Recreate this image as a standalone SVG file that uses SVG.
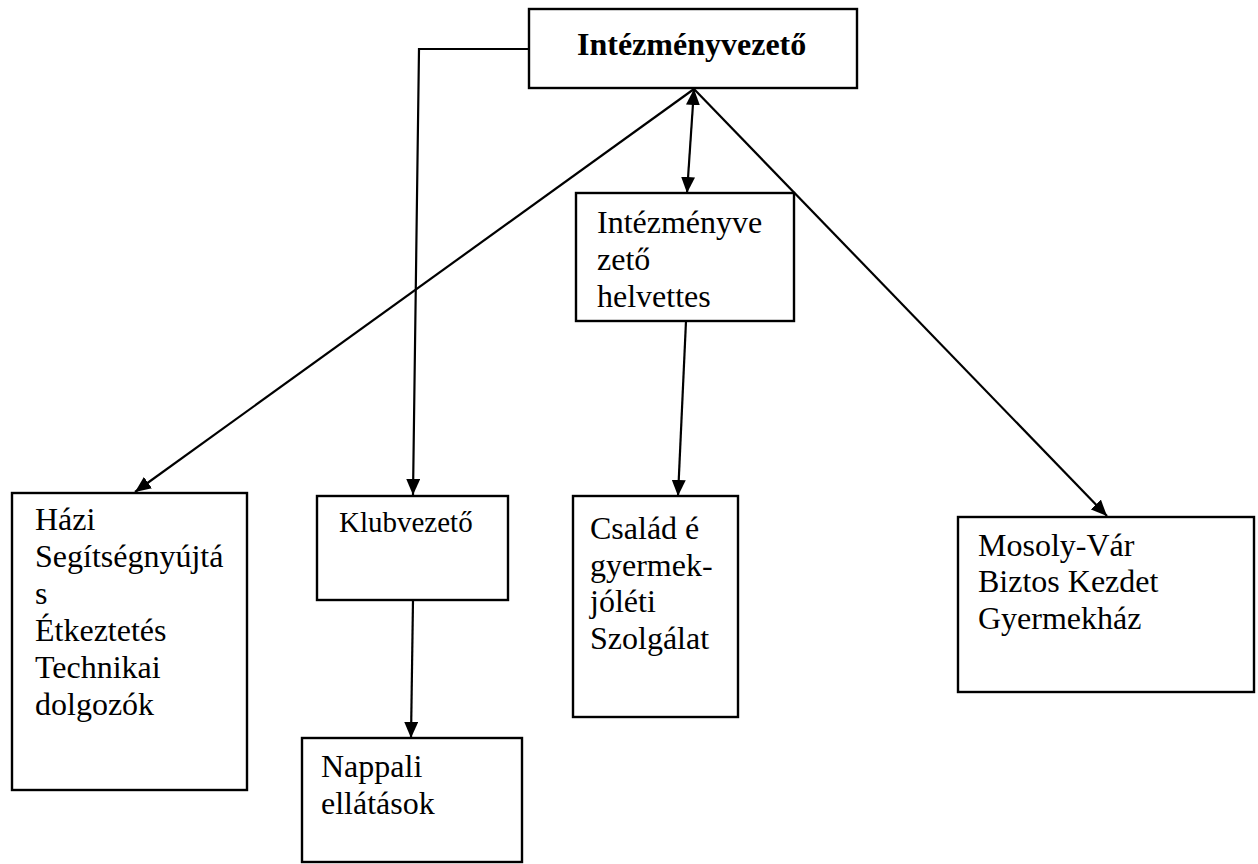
<svg xmlns="http://www.w3.org/2000/svg" width="1258" height="864" viewBox="0 0 1258 864">
<style>
.box{fill:#fff;stroke:#000;stroke-width:2.4}
.t{font-family:"Liberation Serif","Times New Roman",serif;font-size:32px;fill:#000}
.b{font-weight:bold}
.c{fill:none;stroke:#000;stroke-width:2.2}
</style>
<defs>
<marker id="ah" viewBox="0 0 16 14" refX="16" refY="7" markerWidth="16" markerHeight="14" markerUnits="userSpaceOnUse" orient="auto-start-reverse">
<path d="M0,0 L16,7 L0,14 Z" fill="#000"/>
</marker>
</defs>
<rect width="1258" height="864" fill="#fff"/>
<g id="connectors">
<polyline class="c" points="529,49 419,49 413,495" marker-end="url(#ah)"/>
<line class="c" x1="694" y1="89" x2="135" y2="492" marker-end="url(#ah)"/>
<line class="c" x1="694" y1="89" x2="1107" y2="516" marker-end="url(#ah)"/>
<line class="c" x1="694" y1="89" x2="687" y2="193" marker-start="url(#ah)" marker-end="url(#ah)"/>
<line class="c" x1="686" y1="321" x2="678" y2="496" marker-end="url(#ah)"/>
<line class="c" x1="413" y1="600" x2="411" y2="738" marker-end="url(#ah)"/>
</g>
<g id="n-intezmenyvezeto">
<rect class="box" x="529" y="9" width="328" height="79"/>
<text class="t b" x="577" y="55">Intézményvezető</text>
</g>
<g id="n-helyettes">
<rect class="box" x="576" y="193" width="218" height="128"/>
<text class="t" x="597" y="233">Intézményve</text>
<text class="t" x="597" y="270">zető</text>
<text class="t" x="597" y="307">helvettes</text>
</g>
<g id="n-hazi">
<rect class="box" x="12" y="493" width="235" height="297"/>
<text class="t" x="35" y="530">Házi</text>
<text class="t" x="35" y="567">Segítségnyújtá</text>
<text class="t" x="35" y="604">s</text>
<text class="t" x="35" y="641">Étkeztetés</text>
<text class="t" x="35" y="678">Technikai</text>
<text class="t" x="35" y="715">dolgozók</text>
</g>
<g id="n-klub">
<rect class="box" x="317" y="496" width="191" height="104"/>
<text class="t" x="339" y="532" style="font-size:29px">Klubvezető</text>
</g>
<g id="n-nappali">
<rect class="box" x="302" y="738" width="220" height="124"/>
<text class="t" x="321" y="777">Nappali</text>
<text class="t" x="321" y="814">ellátások</text>
</g>
<g id="n-csalad">
<rect class="box" x="573" y="496" width="165" height="221"/>
<text class="t" x="590" y="539">Család é</text>
<text class="t" x="590" y="576">gyermek-</text>
<text class="t" x="590" y="612">jóléti</text>
<text class="t" x="590" y="649">Szolgálat</text>
</g>
<g id="n-mosoly">
<rect class="box" x="958" y="517" width="296" height="175"/>
<text class="t" x="978" y="556">Mosoly-Vár</text>
<text class="t" x="978" y="592">Biztos Kezdet</text>
<text class="t" x="978" y="629">Gyermekház</text>
</g>
</svg>
